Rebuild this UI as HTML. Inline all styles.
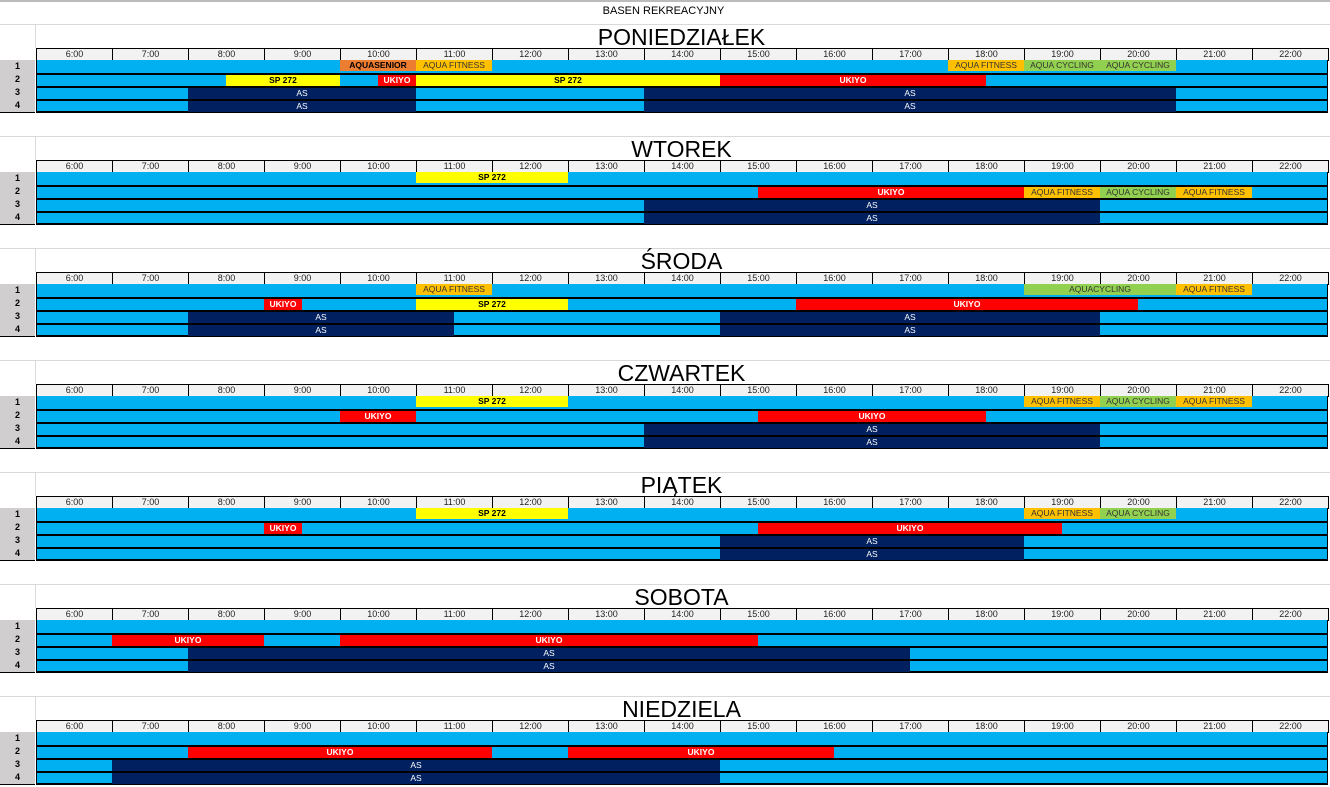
<!DOCTYPE html>
<html><head><meta charset="utf-8">
<style>
body{margin:0;width:1330px;height:787px;background:#fff;position:relative;overflow:hidden;font-family:"Liberation Sans",sans-serif}
.a{position:absolute;box-sizing:border-box}
.hc{background:#f2f2f2;border:1px solid #000;font-size:9px;text-align:center;line-height:11px;color:#222}
.lab{background:#d0cece;font-size:9px;font-weight:bold;text-align:center;line-height:12px;border-bottom:1px solid #000}
.ev{font-size:8.5px;text-align:center;white-space:nowrap;overflow:hidden;line-height:11px}
.day{font-size:23px;text-align:center;color:#000;line-height:24px}
</style></head><body>
<div class="a" style="left:0;top:0;width:1330px;height:2px;background:#bbb"></div>
<div class="a" style="left:0;top:5px;width:1327px;text-align:center;font-size:11px">BASEN REKREACYJNY</div>
<div id="root"></div>
<script>
const days=["PONIEDZIAŁEK","WTOREK","ŚRODA","CZWARTEK","PIĄTEK","SOBOTA","NIEDZIELA"];
const hours=["6:00","7:00","8:00","9:00","10:00","11:00","12:00","13:00","14:00","15:00","16:00","17:00","18:00","19:00","20:00","21:00","22:00"];
// [day, lane, start, end, type, label]
const events=[
[0,1,10,11,"or","AQUASENIOR"],[0,1,11,12,"af","AQUA FITNESS"],[0,1,18,19,"af","AQUA FITNESS"],[0,1,19,20,"ac","AQUA CYCLING"],[0,1,20,21,"ac","AQUA CYCLING"],
[0,2,8.5,10,"sp","SP 272"],[0,2,10.5,11,"uk","UKIYO"],[0,2,11,15,"sp","SP 272"],[0,2,15,18.5,"uk","UKIYO"],
[0,3,8,11,"as","AS"],[0,3,14,21,"as","AS"],[0,4,8,11,"as","AS"],[0,4,14,21,"as","AS"],
[1,1,11,13,"sp","SP 272"],[1,2,15.5,19,"uk","UKIYO"],[1,2,19,20,"af","AQUA FITNESS"],[1,2,20,21,"ac","AQUA CYCLING"],[1,2,21,22,"af","AQUA FITNESS"],
[1,3,14,20,"as","AS"],[1,4,14,20,"as","AS"],
[2,1,11,12,"af","AQUA FITNESS"],[2,1,19,21,"ac","AQUACYCLING"],[2,1,21,22,"af","AQUA FITNESS"],
[2,2,9,9.5,"uk","UKIYO"],[2,2,11,13,"sp","SP 272"],[2,2,16,20.5,"uk","UKIYO"],
[2,3,8,11.5,"as","AS"],[2,3,15,20,"as","AS"],[2,4,8,11.5,"as","AS"],[2,4,15,20,"as","AS"],
[3,1,11,13,"sp","SP 272"],[3,1,19,20,"af","AQUA FITNESS"],[3,1,20,21,"ac","AQUA CYCLING"],[3,1,21,22,"af","AQUA FITNESS"],
[3,2,10,11,"uk","UKIYO"],[3,2,15.5,18.5,"uk","UKIYO"],[3,3,14,20,"as","AS"],[3,4,14,20,"as","AS"],
[4,1,11,13,"sp","SP 272"],[4,1,19,20,"af","AQUA FITNESS"],[4,1,20,21,"ac","AQUA CYCLING"],
[4,2,9,9.5,"uk","UKIYO"],[4,2,15.5,19.5,"uk","UKIYO"],[4,3,15,19,"as","AS"],[4,4,15,19,"as","AS"],
[5,2,7,9,"uk","UKIYO"],[5,2,10,15.5,"uk","UKIYO"],[5,3,8,17.5,"as","AS"],[5,4,8,17.5,"as","AS"],
[6,2,8,12,"uk","UKIYO"],[6,2,13,16.5,"uk","UKIYO"],[6,3,7,15,"as","AS"],[6,4,7,15,"as","AS"]
];
const styles={or:["#ed7d31","#000",true],af:["#ffc000","#333",false],ac:["#92d050","#333",false],sp:["#ffff00","#000",true],uk:["#ff0000","#fff",true],as:["#002060","#fff",false]};
const X0=36,CW=76,BLK=112,TOP0=24,RH=13;
const x=t=>X0+(t-6)*CW;
const root=document.getElementById('root');
function mk(cls,css,txt){const d=document.createElement('div');d.className='a '+cls;d.style.cssText=css;if(txt!==undefined)d.textContent=txt;root.appendChild(d);return d;}
days.forEach((dn,k)=>{
  const b=TOP0+k*BLK;
  let g=mk('', `left:0;top:${b}px;width:1330px;height:1px;background:#d9d9d9`);
  
  
  g=mk('', `left:35px;top:${b}px;width:1px;height:24px;background:#d9d9d9`);
  
  
  let d=mk('day',`left:36px;top:${b+1}px;width:1291px;height:24px`,dn);
  
  
  hours.forEach((h,i)=>{
    const c=mk('hc',`left:${X0+i*CW}px;top:${b+24}px;width:${CW+1}px;height:13px`,h);
    
    
  });
  for(let l=1;l<=4;l++){
    const y=b+36+(l-1)*RH;
    const lb=mk('lab',`left:0;top:${y}px;width:35px;height:${RH+1}px`,String(l));
    
    
    const r=mk('',`left:${X0}px;top:${y}px;width:1292px;height:${RH+1}px;background:#00b0f0;border:1px solid #000;border-top:${l==1?0:2}px solid #000;border-bottom:${l==4?2:1}px solid #000`);
    
    
  }
});
events.forEach(e=>{
  const [dk,l,s,en,t,lab]=e;const st=styles[t];
  const y=TOP0+dk*BLK+36+(l-1)*RH+(l==1?0:2);
  const el=mk('ev',`left:${x(s)}px;top:${y}px;width:${x(en)-x(s)}px;height:11px;background:${st[0]};color:${st[1]};font-weight:${st[2]?'bold':'normal'}`,lab);
  
  
});
</script>
</body></html>
